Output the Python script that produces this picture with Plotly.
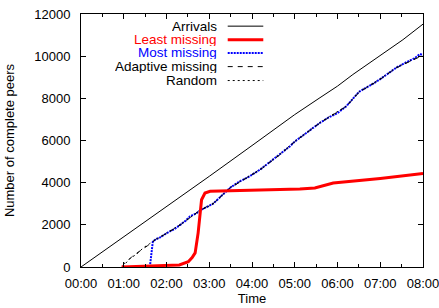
import plotly.graph_objects as go

# ---- data (hours since 00:00, number of complete peers) ----
arr_t = [0, 1, 2, 3, 4, 4.65, 5, 5.59, 6, 6.36, 7, 7.53, 8]
arr_v = [0, 1420, 2870, 4300, 5760, 6740, 7230, 8030, 8580, 9130, 10010, 10780, 11520]

least_t = [0.95, 1.5, 2.0, 2.3, 2.51, 2.6, 2.67, 2.74, 2.82, 2.9, 3.02, 4.0, 5.12, 5.47, 5.6, 5.71, 5.9, 7.0, 8.0]
least_v = [0, 30, 60, 100, 250, 450, 670, 1620, 3190, 3510, 3590, 3630, 3700, 3750, 3830, 3900, 3980, 4200, 4430]

most_t = [1.61, 1.64, 1.68, 1.75, 1.85, 2.0, 2.08, 2.2, 2.32, 2.45, 2.55, 2.7, 2.78, 2.9, 3.09, 3.3,
          3.49, 3.7, 3.9, 4.19, 4.4, 4.65, 4.89, 5.0, 5.3, 5.59, 5.8, 6.0, 6.21, 6.4, 6.5, 6.6, 6.8,
          6.99, 7.2, 7.38, 7.6, 7.8, 7.93, 8.0]
most_v = [0, 600, 1200, 1320, 1400, 1600, 1680, 1820, 2000, 2200, 2400, 2550, 2680, 2800, 3000, 3400,
          3760, 4050, 4250, 4620, 4950, 5330, 5730, 5950, 6400, 6840, 7100, 7300, 7630, 8050, 8300, 8430, 8650,
          8900, 9200, 9460, 9700, 9900, 10100, 10050]

adapt_t = [0.97, 1.0, 1.1, 1.19, 1.3, 1.46, 1.55, 1.65, 1.75, 2.0, 2.32, 2.78, 3.09, 3.49, 4.19, 4.65, 5.0,
           5.59, 6.21, 6.5, 6.99, 7.38, 8.0]
adapt_v = [0, 150, 300, 490, 650, 850, 1000, 1150, 1320, 1590, 1990, 2690, 3010, 3750, 4610, 5320, 5940,
           6830, 7620, 8280, 8890, 9450, 10040]

rand_t = [0.97, 1.05, 1.15, 1.3, 1.45, 1.6, 1.75, 2.0, 2.32, 2.78, 3.09, 3.49, 4.19, 4.65, 5.0,
          5.59, 6.21, 6.5, 6.99, 7.38, 8.0]
rand_v = [0, 200, 420, 600, 900, 1100, 1300, 1610, 2010, 2670, 2990, 3770, 4630, 5340, 5960,
          6850, 7640, 8310, 8910, 9470, 10060]

x_ticks = [0, 1, 2, 3, 4, 5, 6, 7, 8]
x_labels = ["00:00", "01:00", "02:00", "03:00", "04:00", "05:00", "06:00", "07:00", "08:00"]
y_ticks = [0, 2000, 4000, 6000, 8000, 10000, 12000]
y_labels = ["0", "2000", "4000", "6000", "8000", "10000", "12000"]

names = ["Arrivals", "Least missing", "Most missing", "Adaptive missing", "Random"]
colors = ["black", "#ff0000", "#0000ff", "black", "black"]
widths = [1, 3, 2, 1, 1]
dashes = ["solid", "solid", "2px,1px", "5px,5px", "2px,3px"]
series = [(arr_t, arr_v), (least_t, least_v), (most_t, most_v), (adapt_t, adapt_v), (rand_t, rand_v)]

fig = go.Figure()
draw_order = [0, 2, 3, 4, 1]
for i in draw_order:
    t, v = series[i]
    fig.add_trace(go.Scatter(x=t, y=v, mode="lines", name=names[i], showlegend=False, hoverinfo="skip",
                             line=dict(color=colors[i], width=widths[i], dash=dashes[i])))

# manual legend (gnuplot style: right-aligned text, sample on the right)
row_y = [0.952, 0.898, 0.846, 0.792, 0.737]
for i, n in enumerate(names):
    fig.add_annotation(x=0.404, y=row_y[i], xref="paper", yref="paper", text=n, showarrow=False,
                       xanchor="right", yanchor="middle", height=13, valign="middle",
                       font=dict(color=colors[i], size=13.5))
    fig.add_shape(type="line", xref="paper", yref="paper", x0=0.429, x1=0.533, y0=row_y[i], y1=row_y[i],
                  line=dict(color=colors[i], width=widths[i], dash=dashes[i]))

axis_common = dict(showgrid=False, zeroline=False, showline=True, linecolor="black", linewidth=1,
                   mirror="allticks", ticks="inside", ticklen=5, tickcolor="black", automargin=False,
                   ticklabeloverflow="allow", tickfont=dict(size=13, color="black"))
fig.update_xaxes(range=[0, 8], tickvals=x_ticks, ticktext=x_labels, ticklabelstandoff=4,
                 minor=dict(ticks="inside", ticklen=3, dtick=0.5, tickcolor="black"),
                 title=dict(text="Time", font=dict(size=13, color="black"), standoff=3), **axis_common)
fig.update_yaxes(range=[0, 12000], tickvals=y_ticks, ticktext=y_labels, ticklabelstandoff=7,
                 title=dict(text="Number of complete peers", font=dict(size=13, color="black"), standoff=16),
                 **axis_common)

fig.update_layout(width=439, height=308, margin=dict(l=81, r=16, t=14, b=41),
                  paper_bgcolor="white", plot_bgcolor="white", hovermode=False,
                  font=dict(family="Liberation Sans, Arial, sans-serif", size=13, color="black"))

fig.write_html("out.html", config={"displayModeBar": False, "staticPlot": True},
               post_script="document.body.style.margin='0px';")
